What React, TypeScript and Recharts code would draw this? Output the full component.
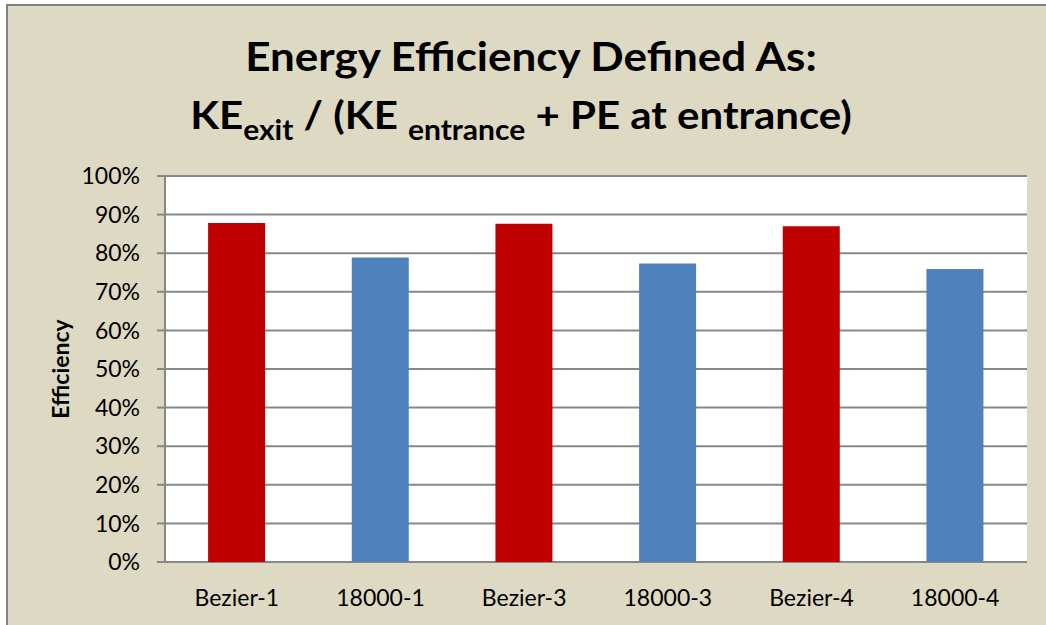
import React from "react";
import { BarChart, Bar, XAxis, YAxis, CartesianGrid, Cell } from "recharts";

const categories = ["Bezier-1", "18000-1", "Bezier-3", "18000-3", "Bezier-4", "18000-4"];
const efficiency = [0.878, 0.789, 0.876, 0.773, 0.870, 0.759];
const yTicks = [0, 0.1, 0.2, 0.3, 0.4, 0.5, 0.6, 0.7, 0.8, 0.9, 1.0];
const edgeTicks = [0, 1, 2, 3, 4, 5, 6];

const BEZIER_COLOR = "#C00000";
const STD_COLOR = "#4F81BD";
const GRID = "#878787";
const FONT = "Lato, 'Open Sans', sans-serif";

const data = categories.map((name, i) => ({ name, value: efficiency[i] }));

const YLabel = (props: any) => {
  const vb = props.viewBox || { x: 0, y: 0, width: 0, height: 0 };
  const cx = vb.x - 5;
  const cy = vb.y + vb.height / 2;
  return (
    <text
      x={cx}
      y={cy}
      transform={`rotate(-90 ${cx} ${cy})`}
      textAnchor="middle"
      dominantBaseline="central"
      fontFamily={FONT}
      fontWeight={700}
      fontSize={23}
      fill="#000"
    >
      Efficiency
    </text>
  );
};

export default function App() {
  return (
    <div style={{ position: "absolute", left: 0, top: 0, width: 1046, height: 625, background: "#fff", overflow: "hidden" }}>
      <div
        style={{
          position: "absolute",
          left: 6,
          top: 4,
          right: 0,
          bottom: 0,
          background: "#DDD9C3",
          borderLeft: "2px solid #808080",
          borderTop: "2px solid #808080",
        }}
      />
      <svg width={1046} height={170} style={{ position: "absolute", left: 0, top: 0 }}>
        <g transform="translate(531 71) scale(1 0.9)">
          <text x={0} y={0} textAnchor="middle" fontFamily={FONT} fontWeight={700} fontSize={44} fill="#000">
            Energy Efficiency Defined As:
          </text>
        </g>
        <g transform="translate(521 129) scale(1 0.92)">
          <text x={0} y={0} textAnchor="middle" fontFamily={FONT} fontWeight={700} fontSize={42} fill="#000">
            KE
            <tspan dy={12} fontSize={30}>exit</tspan>
            <tspan dy={-12}> / (KE </tspan>
            <tspan dy={12} fontSize={30}>entrance</tspan>
            <tspan dy={-12}> + PE at entrance)</tspan>
          </text>
        </g>
      </svg>
      <BarChart
        width={1046}
        height={625}
        data={data}
        margin={{ top: 176, right: 19, bottom: 8, left: 65 }}
        barCategoryGap="30%"
        style={{ position: "absolute", left: 0, top: 0 }}
      >
        <CartesianGrid vertical={false} stroke={GRID} strokeWidth={2} fill="#fff" />
        <XAxis
          xAxisId="edges"
          type="number"
          domain={[0, 6]}
          ticks={edgeTicks}
          allowDataOverflow
          height={0}
          tickSize={8}
          tickFormatter={() => ""}
          axisLine={{ stroke: GRID, strokeWidth: 2 }}
          tickLine={{ stroke: GRID, strokeWidth: 2 }}
        />
        <XAxis
          xAxisId="cat"
          dataKey="name"
          height={55}
          axisLine={false}
          tickLine={false}
          tickSize={8}
          tickMargin={20}
          tick={{ fill: "#000", fontSize: 23, fontFamily: FONT }}
        />
        <YAxis
          domain={[0, 1]}
          ticks={yTicks}
          width={100}
          tickSize={8}
          tickMargin={17}
          tickFormatter={(v: number) => `${Math.round(v * 100)}%`}
          tick={{ fill: "#000", fontSize: 23, fontFamily: FONT }}
          axisLine={{ stroke: GRID, strokeWidth: 2 }}
          tickLine={{ stroke: GRID, strokeWidth: 2 }}
          label={<YLabel />}
          interval={0}
        />
        <Bar dataKey="value" xAxisId="cat" isAnimationActive={false}>
          {data.map((d) => (
            <Cell key={d.name} fill={d.name.startsWith("Bezier") ? BEZIER_COLOR : STD_COLOR} />
          ))}
        </Bar>
      </BarChart>
    </div>
  );
}
